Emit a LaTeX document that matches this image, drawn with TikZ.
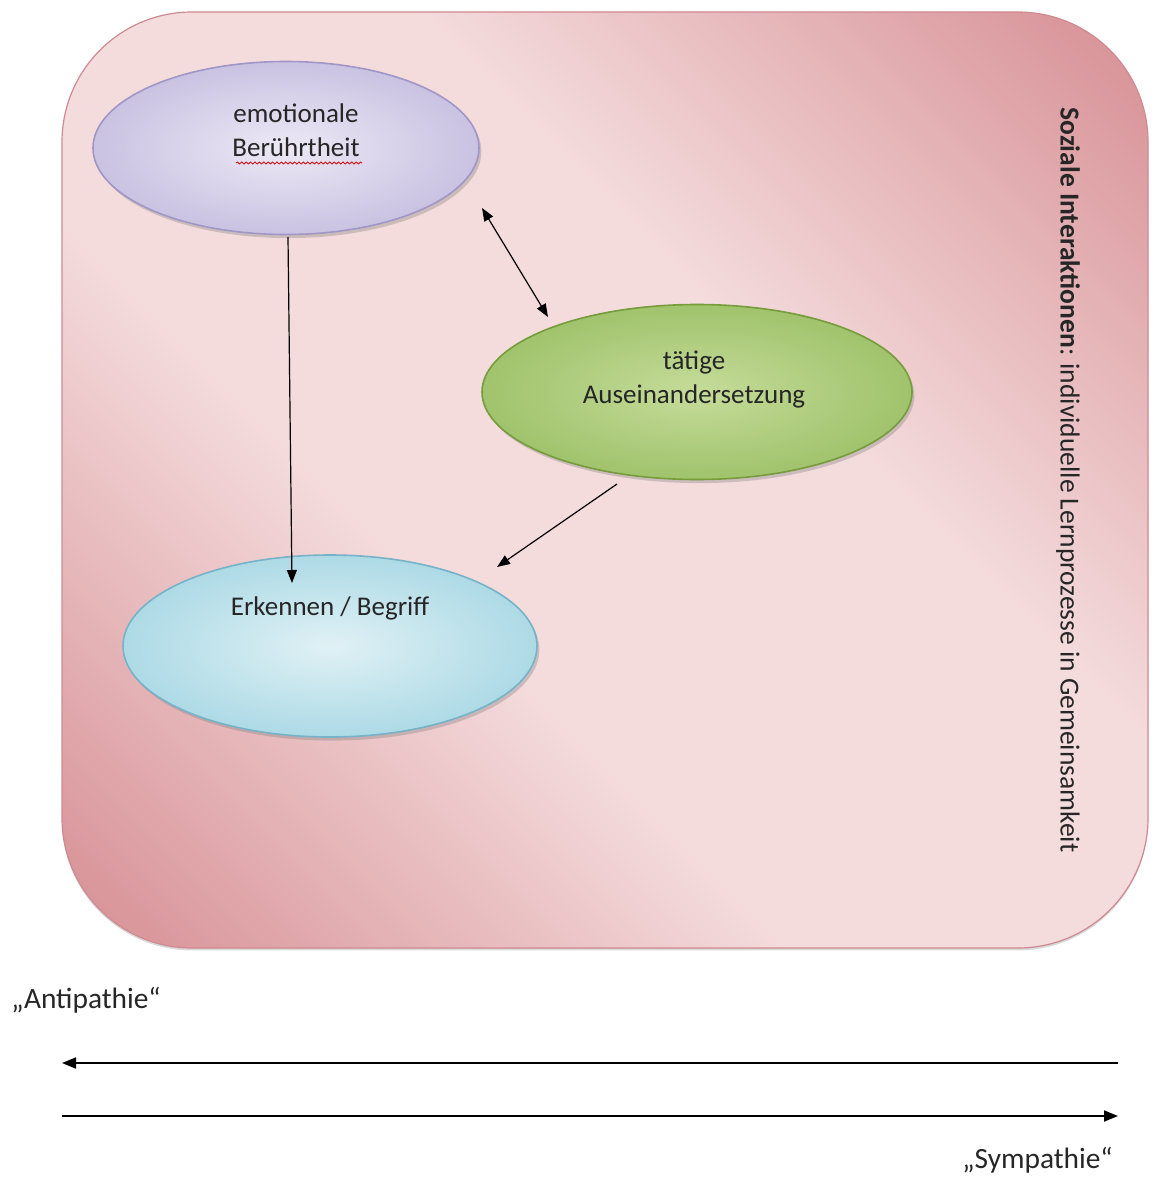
\documentclass[tikz,border=0pt]{standalone}
\usepackage{fontspec}
\setmainfont{Carlito}
\usetikzlibrary{arrows.meta,shapes.geometric,shadows,decorations.pathmorphing}

\definecolor{rosedark}{HTML}{D9959A}
\definecolor{roselight}{HTML}{F4DBDC}
\definecolor{roseframe}{HTML}{CE8A90}
\definecolor{lilacout}{HTML}{C9C2E2}
\definecolor{lilacin}{HTML}{ECE9F5}
\definecolor{lilacline}{HTML}{A197C6}
\definecolor{greenout}{HTML}{A0C36C}
\definecolor{greenin}{HTML}{C6DC9A}
\definecolor{greenline}{HTML}{769C3C}
\definecolor{blueout}{HTML}{ADDAE6}
\definecolor{bluein}{HTML}{E0F1F5}
\definecolor{blueline}{HTML}{76B3C8}

\pgfdeclarehorizontalshading{roseband}{100bp}{color(0bp)=(rosedark); color(17bp)=(rosedark); color(40bp)=(roselight); color(60bp)=(roselight); color(83bp)=(rosedark); color(100bp)=(rosedark)}

\tikzset{
  bubble/.style={ellipse, draw, line width=0.8pt, inner sep=0pt,
    drop shadow={shadow xshift=1.2pt, shadow yshift=-1.8pt, opacity=0.35}},
  label text/.style={font=\fontsize{13.5}{16}\selectfont, text=black!85, align=center},
  link/.style={line width=0.6pt, -{Triangle[length=6.5pt,width=5pt]}},
  twolink/.style={line width=0.6pt, {Triangle[length=6.5pt,width=5pt]}-{Triangle[length=6.5pt,width=5pt]}},
  scale arrow/.style={line width=0.9pt, -{Triangle[length=7pt,width=5.5pt]}},
}

\begin{document}
\begin{tikzpicture}[x=0.5pt,y=-0.5pt]
\useasboundingbox (0,0) rectangle (1155,1182);

% framing panel
\node (panel) [draw=roseframe, line width=0.6pt, rounded corners=65pt,
  shading=roseband, shading angle=45, minimum width=543pt, minimum height=468pt,
  inner sep=0pt, drop shadow={shadow xshift=0pt, shadow yshift=-1.2pt, opacity=0.3}]
  at (605,480) {};

% the three bubbles
\node (emo) [bubble, draw=lilacline, inner color=lilacin, outer color=lilacout,
  minimum width=193pt, minimum height=86.5pt] at (286,148) {};
\node (act) [bubble, draw=greenline, inner color=greenin, outer color=greenout,
  minimum width=215pt, minimum height=87.5pt] at (697,392) {};
\node (erk) [bubble, draw=blueline, inner color=bluein, outer color=blueout,
  minimum width=207pt, minimum height=91pt] at (330,646) {};

% bubble texts
\node (emotxt) [label text] at (296,130) {emotionale\\[1pt]Berührtheit};
\node (acttxt) [label text] at (694,379) {tätige\\[1pt]Auseinandersetzung};
\node (erktxt) [label text] at (330,608) {Erkennen / Begriff};

% spell-check mark
\draw[red!85!black, line width=0.4pt, decorate,
  decoration={snake, amplitude=0.5pt, segment length=2.2pt}]
  (236,163) -- (362,163);

% connector end points
\coordinate (emoout) at (288,237);
\coordinate (erkin) at (292,583);
\coordinate (pairA) at (482,208);
\coordinate (pairB) at (548,317);
\coordinate (actout) at (617,484);
\coordinate (erkside) at (497,567);

\draw[link] (emoout) -- (erkin);
\draw[twolink] (pairA) -- (pairB);
\draw[link] (actout) -- (erkside);

% side caption
\node (side) [rotate=-90, font=\fontsize{13.75}{16}\selectfont, text=black!85]
  at (1068,480) {\textbf{Soziale Interaktionen}: individuelle Lernprozesse in Gemeinsamkeit};

% sympathy / antipathy scale
\node (anti) [anchor=west, font=\fontsize{14.7}{17}\selectfont, text=black!85, inner sep=0pt]
  at (11,1000) {„Antipathie“};
\node (sym) [anchor=east, font=\fontsize{14.7}{17}\selectfont, text=black!85, inner sep=0pt]
  at (1113,1160) {„Sympathie“};

\coordinate (topR) at (1118,1063);
\coordinate (topL) at (62,1063);
\coordinate (botL) at (62,1116);
\coordinate (botR) at (1118,1116);
\draw[scale arrow] (topR) -- (topL);
\draw[scale arrow] (botL) -- (botR);
\end{tikzpicture}
\end{document}
